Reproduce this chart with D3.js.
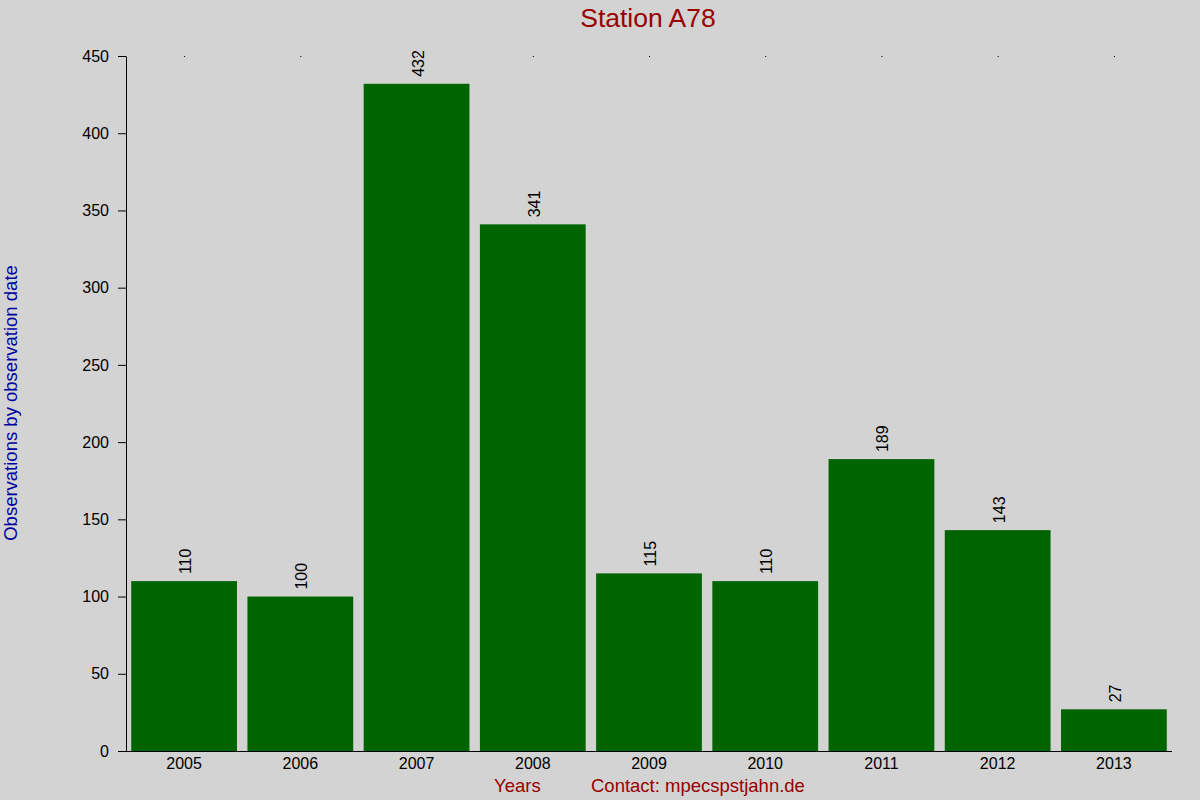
<!DOCTYPE html>
<html>
<head>
<meta charset="utf-8">
<script src="https://cdn.jsdelivr.net/npm/d3@7"></script>
<style>
body { margin: 0; background: #d3d3d3; }
text { font-family: "Liberation Sans", Arial, sans-serif; }
</style>
</head>
<body>
<svg id="main" width="1200" height="800"></svg>
<script>
// data
var years = ["2005", "2006", "2007", "2008", "2009", "2010", "2011", "2012", "2013"];
var counts = [110, 100, 432, 341, 115, 110, 189, 143, 27];
var yTicks = [0, 50, 100, 150, 200, 250, 300, 350, 400, 450];

var svg = d3.select("#main");
svg.append("rect").attr("width", 1200).attr("height", 800).attr("fill", "#d3d3d3");

var plotLeft = 126, plotRight = 1172, plotTop = 56, plotBottom = 751;
var x = d3.scaleBand().domain(years).range([plotLeft, plotRight]).paddingInner(0.09).paddingOuter(0.045);
var y = d3.scaleLinear().domain([0, 450]).range([plotBottom, plotTop]);

// bars
svg.append("g").selectAll("rect").data(counts).join("rect")
	.attr("x", function(d, i) { return x(years[i]); })
	.attr("y", function(d) { return y(d); })
	.attr("width", x.bandwidth())
	.attr("height", function(d) { return plotBottom - y(d); })
	.attr("fill", "#006400");

// value labels
svg.append("g").selectAll("text").data(counts).join("text")
	.attr("transform", function(d, i) {
		return "translate(" + (x(years[i]) + x.bandwidth() / 2 + 7) + "," + (y(d) - 7) + ") rotate(-90)";
	})
	.attr("font-size", 16).attr("fill", "#000")
	.text(function(d) { return d; });

// y axis
var yAxis = svg.append("g").attr("transform", "translate(" + plotLeft + ",0)")
	.call(d3.axisLeft(y).tickValues(yTicks).tickSize(8).tickPadding(9).tickSizeOuter(0));
yAxis.selectAll("text").attr("font-size", 16).attr("fill", "#000").style("font-family", "Liberation Sans, Arial, sans-serif");
yAxis.select(".domain").attr("stroke", "#000");
yAxis.selectAll("line").attr("stroke", "#000");

// x axis
var xAxis = svg.append("g").attr("transform", "translate(0," + plotBottom + ")")
	.call(d3.axisBottom(x).tickSize(0).tickPadding(7).tickSizeOuter(0));
xAxis.selectAll("text").attr("font-size", 16).attr("fill", "#000").style("font-family", "Liberation Sans, Arial, sans-serif");
xAxis.select(".domain").attr("d", "M" + (plotLeft - 8) + ",0.5H" + plotRight).attr("stroke", "#000");

// top tick dots
svg.append("g").selectAll("rect").data(years).join("rect")
	.attr("x", function(d) { return x(d) + x.bandwidth() / 2; })
	.attr("y", plotTop).attr("width", 1).attr("height", 1).attr("fill", "#000");

// titles
svg.append("text").attr("x", 648).attr("y", 27).attr("text-anchor", "middle")
	.attr("font-size", 26.5).attr("fill", "#990000").text("Station A78");
svg.append("text").attr("transform", "translate(17,403) rotate(-90)").attr("text-anchor", "middle")
	.attr("font-size", 18.5).attr("fill", "#0000a0").text("Observations by observation date");
svg.append("text").attr("x", 494).attr("y", 792)
	.attr("font-size", 18.5).attr("fill", "#990000").text("Years");
svg.append("text").attr("x", 591).attr("y", 792)
	.attr("font-size", 18.5).attr("fill", "#990000").text("Contact: mpecspstjahn.de");
</script>
</body>
</html>
